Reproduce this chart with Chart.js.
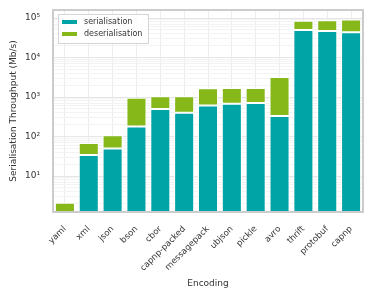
<!DOCTYPE html>
<html>
<head>
<meta charset="utf-8">
<script src="https://cdn.jsdelivr.net/npm/chart.js@4/dist/chart.umd.min.js"></script>
<style>
html,body{margin:0;padding:0;background:#fff;}
#wrap{width:373px;height:299px;position:relative;}
</style>
</head>
<body>
<div id="wrap"><canvas id="c" width="373" height="299"></canvas></div>
<script>
const categories = ["yaml","xml","json","bson","cbor","capnp-packed","messagepack","ubjson","pickle","avro","thrift","protobuf","capnp"];
const serialisation = [0, 34, 50, 180, 500, 400, 610, 675, 710, 330, 50000, 47000, 44000];
const deserialisation = [2.1, 35, 58, 780, 550, 650, 1070, 1025, 990, 2910, 35000, 41000, 48000];
const yTickLabels = {1:"10\u2070",10:"10\u00b9",100:"10\u00b2",1000:"10\u00b3",10000:"10\u2074",100000:"10\u2075"};

const TEAL = "#00A3A6";
const GREEN = "#86B81A";
const FONT = "'DejaVu Sans', sans-serif";

const framePlugin = {
  id: "frame",
  afterDraw(chart) {
    const ctx = chart.ctx, a = chart.chartArea;
    ctx.save();
    ctx.strokeStyle = "#cccccc";
    ctx.lineWidth = 2;
    ctx.strokeRect(a.left, a.top, a.right - a.left, a.bottom - a.top);
    // legend inside
    const x = a.left + 5, y = a.top + 4, w = 90, h = 29;
    ctx.fillStyle = "rgba(255,255,255,0.85)";
    ctx.fillRect(x, y, w, h);
    ctx.strokeStyle = "#d5d5d5";
    ctx.lineWidth = 1;
    ctx.strokeRect(x + 0.5, y + 0.5, w, h);
    ctx.font = "8px " + FONT;
    ctx.textBaseline = "middle";
    chart.data.datasets.forEach((ds, i) => {
      const cy = y + 8 + i * 12;
      ctx.fillStyle = ds.backgroundColor;
      ctx.fillRect(x + 4, cy - 2, 15, 4);
      ctx.fillStyle = "#333333";
      ctx.fillText(ds.label, x + 26, cy);
    });
    ctx.restore();
  }
};

new Chart(document.getElementById("c"), {
  type: "bar",
  data: {
    labels: categories,
    datasets: [
      {label: "serialisation", data: serialisation, backgroundColor: TEAL, borderColor: "#ffffff", borderWidth: 1, borderSkipped: false, barPercentage: 0.84, categoryPercentage: 1},
      {label: "deserialisation", data: deserialisation, backgroundColor: GREEN, borderColor: "#ffffff", borderWidth: 1, borderSkipped: false, barPercentage: 0.84, categoryPercentage: 1}
    ]
  },
  options: {
    responsive: false,
    animation: false,
    layout: {padding: {top: 10, right: 10, left: 0, bottom: 0}},
    plugins: {legend: {display: false}, tooltip: {enabled: false}},
    scales: {
      x: {
        stacked: true,
        offset: true,
        grid: {offset: false, color: "#ececec", lineWidth: 1, drawTicks: false},
        border: {display: false},
        ticks: {minRotation: 45, maxRotation: 45, padding: 12, color: "#333", font: {family: FONT, size: 8.5}, autoSkip: false},
        title: {display: true, text: "Encoding", color: "#333", font: {family: FONT, size: 9}, padding: {top: 0, bottom: 10}},
        afterFit(s) { s.height = 87; s.paddingLeft = 0; s.paddingRight = 0; }
      },
      y: {
        type: "logarithmic",
        stacked: true,
        min: 1.23,
        max: 160000,
        grid: {
          drawTicks: false,
          color: (c) => (c.tick && yTickLabels[c.tick.value]) ? "#e6e6e6" : "#f3f3f3",
          lineWidth: 1
        },
        border: {display: false},
        afterBuildTicks(s) {
          const t = [];
          for (let e = 0; e <= 5; e++) {
            for (let m = 1; m <= 9; m++) {
              const v = m * Math.pow(10, e);
              if (v >= s.min && v <= s.max) t.push({value: v});
            }
          }
          s.ticks = t;
        },
        ticks: {
          autoSkip: false,
          padding: 13,
          color: "#333",
          font: {family: FONT, size: 9},
          callback: (v) => yTickLabels[v] || ""
        },
        title: {display: true, text: "Serialisation Throughput (Mb/s)", color: "#333", font: {family: FONT, size: 9}, padding: {top: 8, bottom: 0}},
        afterFit(s) { s.width = 53; s.paddingTop = 0; s.paddingBottom = 0; }
      }
    }
  },
  plugins: [framePlugin]
});
</script>
</body>
</html>
